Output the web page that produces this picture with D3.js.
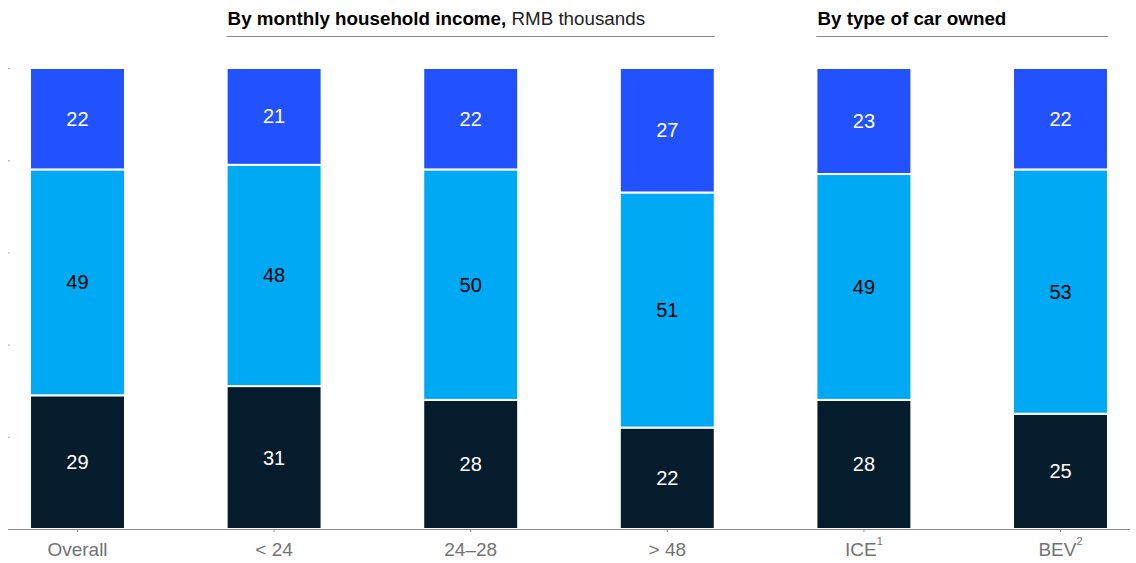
<!DOCTYPE html>
<html>
<head>
<meta charset="utf-8">
<script src="https://cdn.jsdelivr.net/npm/d3@7"></script>
<style>
  html, body { margin: 0; padding: 0; background: #fff; }
  svg { display: block; font-family: "Liberation Sans", Arial, sans-serif; }
</style>
</head>
<body>
<svg id="chart" width="1136" height="563"></svg>
<script>
// Categories along the x axis (superscripts are footnote markers)
const categories = ["Overall", "< 24", "24–28", "> 48", "ICE", "BEV"];
const footnotes  = ["", "", "", "", "1", "2"];

// Share of respondents, %, stacked from the bottom up
const bottomValues = [29, 31, 28, 22, 28, 25];
const middleValues = [49, 48, 50, 51, 49, 53];
const topValues    = [22, 21, 22, 27, 23, 22];

const yTicks = [0, 20, 40, 60, 80, 100];

// Group headers spanning categories
const groupHeaders = [
  { bold: "By monthly household income,", light: " RMB thousands", from: "< 24", to: "> 48" },
  { bold: "By type of car owned", light: "", from: "ICE", to: "BEV" }
];

const svg = d3.select("#chart");
const margin = { left: 8, right: 6, top: 68, bottom: 34 };
const W = 1136, H = 563;

const x = d3.scaleBand()
  .domain(categories)
  .range([margin.left, W - margin.right])
  .paddingInner(0.517)
  .paddingOuter(0.112);

const y = d3.scaleLinear().domain([0, 100]).range([H - margin.bottom, margin.top]);

const colors = { bottom: "#051C2C", middle: "#00A9F4", top: "#2251FF" };
const textColors = { bottom: "#ffffff", middle: "#000000", top: "#ffffff" };

const rows = categories.map((c, i) => ({
  cat: c, bottom: bottomValues[i], middle: middleValues[i], top: topValues[i]
}));
const keys = ["bottom", "middle", "top"];
const stacked = d3.stack().keys(keys)(rows);

// Faint y ticks on the left edge
const yAxis = svg.append("g")
  .attr("transform", `translate(${margin.left + 2},0)`)
  .call(d3.axisLeft(y).tickValues(yTicks).tickSize(2).tickFormat(""));
yAxis.select(".domain").remove();
yAxis.selectAll(".tick line").attr("stroke", "#aaa");

// Stacked bars
stacked.forEach(layer => {
  const g = svg.append("g");
  g.selectAll("rect").data(layer).join("rect")
    .attr("x", d => x(d.data.cat))
    .attr("width", x.bandwidth())
    .attr("y", d => y(d[1]))
    .attr("height", d => y(d[0]) - y(d[1]))
    .attr("fill", colors[layer.key])
    .attr("stroke", "#fff")
    .attr("stroke-width", 2);
  g.selectAll("text").data(layer).join("text")
    .attr("x", d => x(d.data.cat) + x.bandwidth() / 2)
    .attr("y", d => (y(d[0]) + y(d[1])) / 2)
    .attr("dy", "0.35em")
    .attr("text-anchor", "middle")
    .attr("font-size", 20)
    .attr("fill", textColors[layer.key])
    .text(d => d.data[layer.key]);
});

// X axis
const xAxis = svg.append("g")
  .attr("transform", `translate(0,${H - margin.bottom})`)
  .call(d3.axisBottom(x).tickSize(3).tickSizeOuter(0).tickFormat(""));
xAxis.select(".domain")
  .attr("d", `M${margin.left},0.5H${W - margin.right}`)
  .attr("stroke", "#8a8a8a");
xAxis.selectAll(".tick line").attr("stroke", "#8a8a8a");

const labels = xAxis.selectAll(".tick").append("text")
  .attr("y", 20)
  .attr("dy", "0.35em")
  .attr("text-anchor", "middle")
  .attr("font-size", 19)
  .attr("fill", "#737373");
labels.append("tspan").text(d => d);
labels.append("tspan")
  .attr("font-size", 11)
  .attr("dy", "-0.95em")
  .text(d => footnotes[categories.indexOf(d)]);

// Group headers with rules underneath
groupHeaders.forEach(h => {
  const x0 = x(h.from), x1 = x(h.to) + x.bandwidth();
  const t = svg.append("text")
    .attr("x", x0 + 1)
    .attr("y", 25)
    .attr("font-size", 18.8)
    .attr("fill", "#000");
  t.append("tspan").attr("font-weight", "bold").text(h.bold);
  t.append("tspan").attr("fill", "#222").text(h.light);
  svg.append("line")
    .attr("x1", x0).attr("x2", x1)
    .attr("y1", 36.5).attr("y2", 36.5)
    .attr("stroke", "#8a8a8a")
    .attr("stroke-width", 1);
});
</script>
</body>
</html>
